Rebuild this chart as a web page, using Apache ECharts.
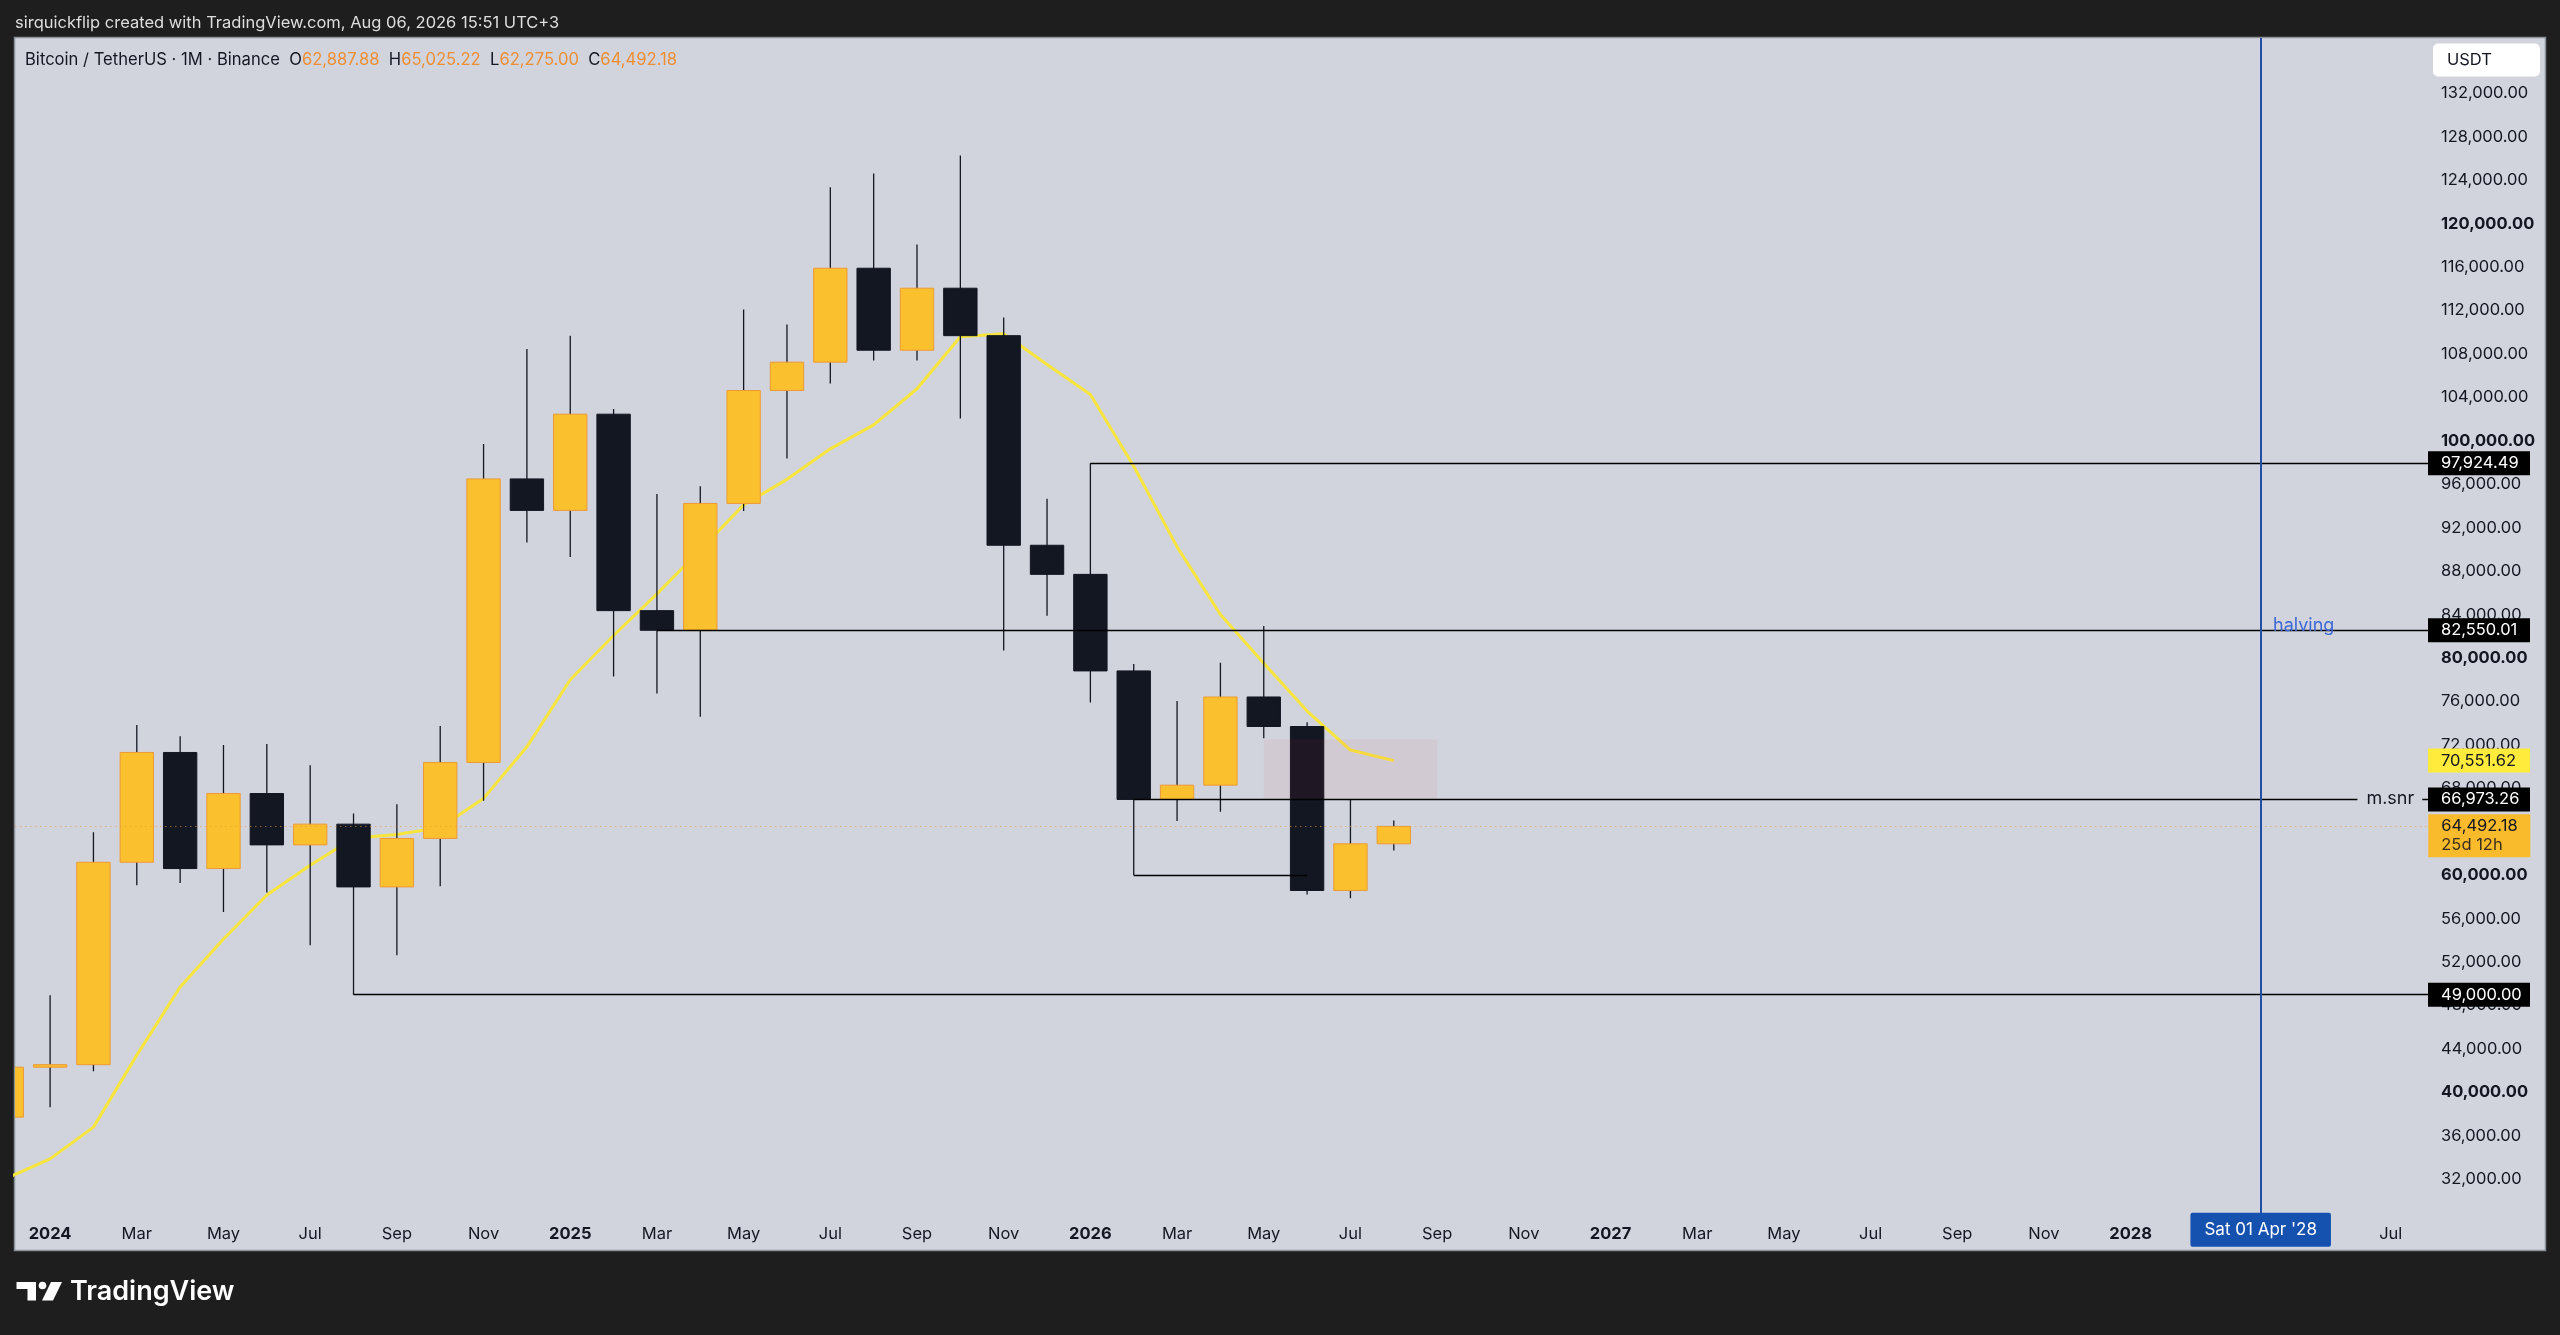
<!DOCTYPE html>
<html>
<head>
<meta charset="utf-8">
<script src="https://cdn.jsdelivr.net/npm/echarts@6/dist/echarts.min.js"></script>
<style>
html,body{margin:0;padding:0;background:#1e1e1e;}
#chart{width:2560px;height:1335px;}
</style>
</head>
<body>
<div id="chart"></div>
<script>
// ---------------- DATA ----------------
const months = ['2023-12','2024-01','2024-02','2024-03','2024-04','2024-05','2024-06','2024-07','2024-08','2024-09','2024-10','2024-11','2024-12',
  '2025-01','2025-02','2025-03','2025-04','2025-05','2025-06','2025-07','2025-08','2025-09','2025-10','2025-11','2025-12',
  '2026-01','2026-02','2026-03','2026-04','2026-05','2026-06','2026-07','2026-08'];
const opens  = [37720, 42320, 42550, 61190, 71300, 60610, 67520, 62790, 64700, 58920, 63380, 70380, 96490,
  93590, 102450, 84360, 82550.01, 94230, 104630, 107240, 115890, 108340, 114050, 109680, 90380,
  87700, 78810, 66973.26, 68290, 76410, 73690, 58590, 62887.88];
const highs  = [44700, 48940, 63960, 73820, 72800, 71980, 72070, 70130, 65680, 66540, 73730, 99700, 108450,
  109680, 102930, 95110, 95820, 112080, 110710, 123340, 124610, 118070, 126270, 111350, 94660,
  97924.49, 79440, 76030, 79560, 82950, 74080, 66970, 65025.22];
const lows   = [37600, 38640, 41950, 59070, 59290, 56610, 58400, 53540, 49000, 52620, 58980, 66850, 90630,
  89290, 78290, 76730, 74590, 93530, 98360, 105270, 107390, 107390, 102060, 80700, 83900,
  75900, 60000, 65000, 65830, 72600, 58220, 57870, 62275.00];
const closes = [42320, 42550, 61190, 71300, 60610, 67520, 62790, 64700, 58920, 63380, 70380, 96490, 93590,
  102450, 84360, 82550.01, 94230, 104630, 107240, 115890, 108340, 114050, 109680, 90380, 87700,
  78810, 66973.26, 68290, 76410, 73690, 58590, 62887.88, 64492.18];
const maValues = [32100, 33880, 36800, 43430, 49700, 54120, 58180, 60920, 63400, 63750, 64390, 67070, 71820,
  78000, 82070, 85900, 89950, 94100, 96450, 99260, 101470, 104790, 109580, 109850, 107020,
  104270, 97650, 90230, 84010, 79520, 75110, 71520, 70551.62];

// drawings on the chart
const rayFromMonths = ['2026-01', '2025-03', '2026-02', '2024-08'];
const rayPrices     = [97924.49, 82550.01, 66973.26, 49000.00];
const rayNotes      = ['', '', 'm.snr', ''];
const bracketMonths = ['2026-02', '2026-06'];
const bracketPrice  = 60000;
const zoneMonths    = ['2026-05', '2026-09'];
const zonePrices    = [66973.26, 72500];
const halvingMonth  = '2028-04';
const halvingDate   = "Sat 01 Apr '28";
const halvingText   = 'halving';
const halvingTextPrice = 82900;
const countdown     = '25d 12h';
const monthNames = ['Jan','Feb','Mar','Apr','May','Jun','Jul','Aug','Sep','Oct','Nov','Dec'];

// ---------------- helpers / layout ----------------
const FONT = 'Inter, "Noto Sans", sans-serif';
const INK = '#131722';
const X_MIN = -0.81, X_MAX = 54.86, Y_MIN = 28000, Y_MAX = 137090;
const last = closes.length - 1;
const idxOf = m => { const p = m.split('-').map(Number); return (p[0] - 2024) * 12 + p[1] - 1; };
const fmt = n => { const s = n.toFixed(2).split('.'); return s[0].replace(/\B(?=(\d{3})+(?!\d))/g, ',') + '.' + s[1]; };
const hIdx = idxOf(halvingMonth);

const xLabelValues = [];
for (let i = 0; i <= Math.floor(X_MAX); i += 2) { if (Math.abs(i - hIdx) >= 2) xLabelValues.push(i); }

const tag = (text, bg, fg) => ({
  show: true, position: 'end', distance: 0, formatter: () => text,
  backgroundColor: bg, color: fg, fontFamily: FONT, fontSize: 16.5, lineHeight: 18,
  padding: [3, 12, 3, 13], width: 77
});

const candleData = months.map((m, i) => [idxOf(m), opens[i], closes[i], lows[i], highs[i]]);
const maData = months.map((m, i) => [idxOf(m), maValues[i]]);

const rayLines = rayPrices.map((p, i) => [
  { coord: [idxOf(rayFromMonths[i]), p], lineStyle: { color: '#000', width: 1.3, type: 'solid' }, label: tag(fmt(p), '#000', '#fff') },
  { coord: [X_MAX, p] }
]);

const notePoints = [];
rayPrices.forEach((p, i) => {
  if (rayNotes[i]) notePoints.push({
    coord: [X_MAX - 0.125, p], symbolSize: 1, itemStyle: { color: 'rgba(0,0,0,0)' },
    label: { show: true, position: 'left', distance: 0, formatter: () => rayNotes[i], color: INK,
      backgroundColor: '#D1D4DC', padding: [2, 8, 2, 9], fontSize: 18, fontFamily: FONT }
  });
});

const chart = echarts.init(document.getElementById('chart'), null, { renderer: 'canvas' });
const option = {
  animation: false,
  backgroundColor: '#1e1e1e',
  grid: { left: 15, right: 132, top: 38, bottom: 112.3, containLabel: false },
  xAxis: {
    type: 'value', min: X_MIN, max: X_MAX,
    axisLine: { show: false }, axisTick: { show: false }, splitLine: { show: false },
    axisLabel: {
      customValues: xLabelValues, margin: 3, color: INK, fontSize: 16.5, fontFamily: FONT,
      formatter: v => { const i = Math.round(v); const m = ((i % 12) + 12) % 12; return m === 0 ? '{b|' + (2024 + Math.floor(i / 12)) + '}' : monthNames[m]; },
      rich: { b: { fontWeight: 'bold', fontSize: 16.5, color: INK, fontFamily: FONT } }
    }
  },
  yAxis: {
    type: 'value', position: 'right', min: Y_MIN, max: Y_MAX, interval: 4000, scale: true,
    axisLine: { show: false }, axisTick: { show: false }, splitLine: { show: false },
    axisLabel: {
      margin: 13, color: INK, fontSize: 16.5, fontFamily: FONT, showMinLabel: false, showMaxLabel: false,
      formatter: v => { if (v > 132000 || v < 32000) return ''; const s = fmt(v); return v % 20000 === 0 ? '{b|' + s + '}' : s; },
      rich: { b: { fontWeight: 'bold', fontSize: 16.5, color: INK, fontFamily: FONT } }
    }
  },
  series: [
    {
      type: 'line', name: 'MA', data: maData, symbol: 'none', showSymbol: false, z: 1, silent: true, clip: true,
      lineStyle: { color: '#F7E43D', width: 3 },
      markLine: {
        symbol: ['none', 'none'], silent: true, z: 6,
        data: [{ yAxis: maValues[last], lineStyle: { color: 'rgba(0,0,0,0)', width: 0 }, label: tag(fmt(maValues[last]), '#FFEB3B', INK) }]
      }
    },
    {
      type: 'custom', name: 'BTCUSDT', data: candleData, z: 2, clip: true, silent: true,
      encode: { x: 0, y: [1, 2, 3, 4] },
      renderItem: (params, api) => {
        const x = api.value(0), o = api.value(1), c = api.value(2), l = api.value(3), h = api.value(4);
        const pO = api.coord([x, o]), pC = api.coord([x, c]), pL = api.coord([x, l]), pH = api.coord([x, h]);
        const w = api.size([1, 0])[0] * 0.77;
        const up = c >= o;
        const top = Math.min(pO[1], pC[1]), bot = Math.max(pO[1], pC[1]);
        return {
          type: 'group', children: [
            { type: 'line', shape: { x1: pH[0], y1: pH[1], x2: pL[0], y2: pL[1] }, style: { stroke: INK, lineWidth: 1.3 } },
            { type: 'rect', shape: { x: pO[0] - w / 2, y: top, width: w, height: Math.max(bot - top, 1.5) },
              style: { fill: up ? '#FBC02D' : '#131722', stroke: up ? '#EC9A36' : '#131722', lineWidth: 1 } }
          ]
        };
      },
      markArea: {
        silent: true, z: 3, itemStyle: { color: 'rgba(242,54,69,0.06)' },
        data: [[{ coord: [idxOf(zoneMonths[0]), zonePrices[0]] }, { coord: [idxOf(zoneMonths[1]), zonePrices[1]] }]]
      },
      markLine: {
        symbol: ['none', 'none'], silent: true, z: 5,
        data: [
          { yAxis: closes[last], lineStyle: { type: [1.5, 3.5], color: '#E99A3A', width: 1, opacity: 0.6 }, label: { show: false } },
          ...rayLines,
          [
            { coord: [idxOf(bracketMonths[0]), bracketPrice], lineStyle: { color: '#000', width: 1.3, type: 'solid' }, label: { show: false } },
            { coord: [idxOf(bracketMonths[1]), bracketPrice] }
          ],
          { xAxis: hIdx, lineStyle: { color: '#1f4fa8', width: 2, type: 'solid' },
            label: { show: true, position: 'start', distance: -10, formatter: () => halvingDate,
              backgroundColor: '#1552b0', color: '#fff', fontSize: 17, lineHeight: 20, fontFamily: FONT,
              padding: [7, 14, 7, 14], borderRadius: 2 } }
        ]
      },
      markPoint: {
        silent: true, z: 7,
        data: [
          { coord: [hIdx, halvingTextPrice], symbolSize: 1, itemStyle: { color: 'rgba(0,0,0,0)' },
            label: { show: true, position: 'right', distance: 12, formatter: () => halvingText, color: '#3d68d8', fontSize: 18, fontFamily: FONT } },
          ...notePoints,
          { coord: [X_MAX, closes[last]], symbolSize: 1, itemStyle: { color: 'rgba(0,0,0,0)' },
            label: { show: true, position: 'right', distance: 0, offset: [0, 9.7],
              formatter: () => '{p|' + fmt(closes[last]) + '}\n{t|' + countdown + '}',
              backgroundColor: '#F9BA2B', padding: [3, 12, 3, 13], width: 77, align: 'left',
              rich: { p: { fontSize: 16.5, lineHeight: 18, color: INK, fontFamily: FONT },
                      t: { fontSize: 16.5, lineHeight: 19, color: '#3a2f1c', fontFamily: FONT } } } }
        ]
      }
    }
  ],
  graphic: [
    { type: 'rect', z: -10, silent: true, shape: { x: 14.5, y: 37.5, width: 2531, height: 1213 },
      style: { fill: '#D1D4DC', stroke: '#8c8f96', lineWidth: 1.5 } },
    { type: 'text', z: 100, x: 15, y: 23, silent: true,
      style: { text: 'sirquickflip created with TradingView.com, Aug 06, 2026 15:51 UTC+3', fill: '#dedede', fontSize: 16.5, fontFamily: FONT, verticalAlign: 'middle' } },
    { type: 'text', z: 100, x: 25, y: 60, silent: true,
      style: {
        text: '{t|Bitcoin / TetherUS · 1M · Binance}  {k|O}{v|' + fmt(opens[last]) + '}  {k|H}{v|' + fmt(highs[last]) + '}  {k|L}{v|' + fmt(lows[last]) + '}  {k|C}{v|' + fmt(closes[last]) + '}',
        fontSize: 16.6, fontFamily: FONT, fill: INK, verticalAlign: 'middle',
        rich: { t: { fill: INK, fontSize: 16.6, fontFamily: FONT }, k: { fill: INK, fontSize: 16.6, fontFamily: FONT }, v: { fill: '#EE8E33', fontSize: 16.6, fontFamily: FONT } }
      } },
    { type: 'rect', z: 100, silent: true, shape: { x: 2433, y: 43.5, width: 107, height: 33, r: 5 }, style: { fill: '#ffffff' } },
    { type: 'text', z: 101, x: 2447, y: 60, silent: true, style: { text: 'USDT', fill: INK, fontSize: 16.5, fontFamily: FONT, verticalAlign: 'middle' } },
    { type: 'polygon', z: 100, silent: true, shape: { points: [[16.5, 1282], [36, 1282], [36, 1300.5], [27.5, 1300.5], [27.5, 1289], [16.5, 1289]] }, style: { fill: '#ffffff' } },
    { type: 'circle', z: 100, silent: true, shape: { cx: 42.5, cy: 1285.5, r: 3.8 }, style: { fill: '#ffffff' } },
    { type: 'polygon', z: 100, silent: true, shape: { points: [[51, 1282], [62, 1282], [53, 1300.5], [42, 1300.5]] }, style: { fill: '#ffffff' } },
    { type: 'text', z: 100, x: 70, y: 1292, silent: true, style: { text: 'TradingView', fill: '#ffffff', fontSize: 27, fontWeight: 600, fontFamily: FONT, verticalAlign: 'middle' } }
  ]
};
chart.setOption(option);
</script>
</body>
</html>
